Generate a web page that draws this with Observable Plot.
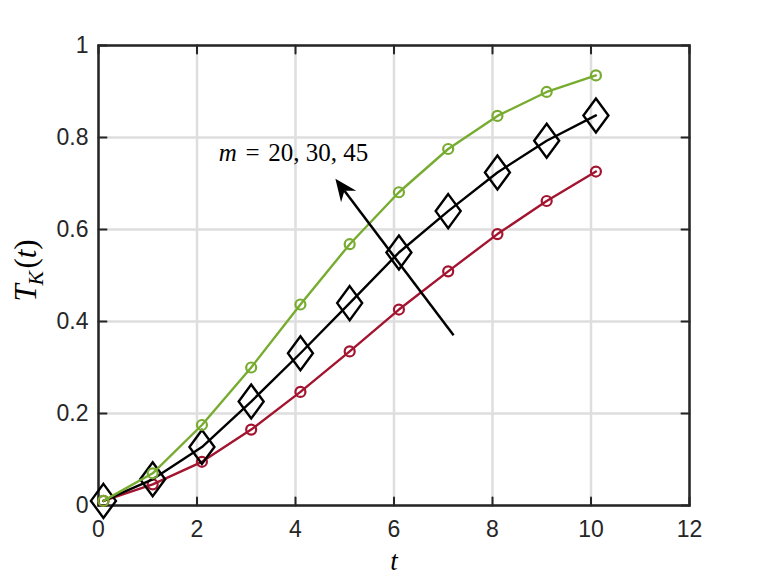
<!DOCTYPE html>
<html><head><meta charset="utf-8">
<script src="https://cdn.jsdelivr.net/npm/d3@7"></script>
<script src="https://cdn.jsdelivr.net/npm/@observablehq/plot@0.6"></script>
<style>body{margin:0;background:#fff}</style>
</head><body><div id="chart"></div>
<script>
// ---- data ----
const tValues = [0.1, 1.1, 2.1, 3.1, 4.1, 5.1, 6.1, 7.1, 8.1, 9.1, 10.1];
const m20 = [0.01, 0.046, 0.095, 0.165, 0.247, 0.335, 0.426, 0.509, 0.59, 0.662, 0.726];
const m30 = [0.01, 0.057, 0.127, 0.226, 0.331, 0.44, 0.55, 0.64, 0.724, 0.793, 0.848];
const m45 = [0.01, 0.07, 0.175, 0.30, 0.437, 0.568, 0.681, 0.775, 0.847, 0.899, 0.935];
const xTicks = [0, 2, 4, 6, 8, 10, 12];
const yTicks = [0, 0.2, 0.4, 0.6, 0.8, 1];
const annotationText = ["m = 20, 30, 45"];
const annotationPos = [2.44, 0.767];
const arrowTail = [7.22, 0.369];
const arrowTip = [4.82, 0.709];
const xLabel = "t";
const yLabel = "T_K(t)";

const rows = (vals) => tValues.map((t, i) => ({t, v: vals[i]}));
const red = "#A2142F", green = "#77AC30", ink = "#262626";

const tickShape = {draw(ctx, l) { ctx.moveTo(0, 0); ctx.lineTo(0, -l); }};
const diamond = {draw(ctx, size) {
  const r = Math.sqrt(size / Math.PI);
  const h = r * 1.36;
  ctx.moveTo(0, -h); ctx.lineTo(r, 0); ctx.lineTo(0, h); ctx.lineTo(-r, 0); ctx.closePath();
}};
const tickOpts = {length: 8, anchor: "start", shape: tickShape, stroke: ink, strokeWidth: 2};

const plot = Plot.plot({
  width: 761, height: 580,
  marginLeft: 98, marginRight: 72, marginTop: 45, marginBottom: 75,
  x: {domain: [0, 12]},
  y: {domain: [0, 1]},
  style: {fontFamily: "'Liberation Sans', Arial, sans-serif", fontSize: "23px", color: ink, background: "#fff"},
  marks: [
    Plot.gridX(xTicks, {stroke: "#dedede", strokeOpacity: 1, strokeWidth: 2.5}),
    Plot.gridY(yTicks, {stroke: "#dedede", strokeOpacity: 1, strokeWidth: 2.5}),
    Plot.axisX(xTicks, {tickSize: 0, tickPadding: 15, label: null, tickFormat: d => String(d), fill: ink}),
    Plot.axisY(yTicks, {tickSize: 0, tickPadding: 10, label: null, tickFormat: d => String(d), fill: ink}),
    Plot.vector(xTicks, {x: d => d, frameAnchor: "bottom", ...tickOpts}),
    Plot.vector(xTicks, {x: d => d, frameAnchor: "top", rotate: 180, ...tickOpts}),
    Plot.vector(yTicks, {y: d => d, frameAnchor: "left", rotate: 90, ...tickOpts}),
    Plot.vector(yTicks, {y: d => d, frameAnchor: "right", rotate: -90, ...tickOpts}),
    Plot.frame({stroke: ink, strokeWidth: 2.5}),
    Plot.line(rows(m20), {x: "t", y: "v", stroke: red, strokeWidth: 2.4}),
    Plot.dot(rows(m20), {x: "t", y: "v", r: 5, stroke: red, strokeWidth: 2.2, fill: "none"}),
    Plot.line(rows(m30), {x: "t", y: "v", stroke: "black", strokeWidth: 2.4}),
    Plot.dot(rows(m30), {x: "t", y: "v", r: 12.5, symbol: diamond, stroke: "black", strokeWidth: 2.4, fill: "none"}),
    Plot.line(rows(m45), {x: "t", y: "v", stroke: green, strokeWidth: 2.4}),
    Plot.dot(rows(m45), {x: "t", y: "v", r: 5, stroke: green, strokeWidth: 2.2, fill: "none"}),
    Plot.text(annotationText, {x: annotationPos[0], y: annotationPos[1], text: d => d, textAnchor: "start",
      fontFamily: "'Liberation Serif', serif", fontSize: 25, fill: "black"}),
    Plot.text([xLabel], {frameAnchor: "bottom", dy: 64, text: d => d, fontFamily: "'Liberation Serif', serif",
      fontStyle: "italic", fontSize: 27, fill: "black"}),
    Plot.text([yLabel], {frameAnchor: "left", dx: -72, dy: 26, rotate: -90, text: d => d, fontFamily: "'Liberation Serif', serif",
      fontSize: 31, fill: "black"})
  ]
});

const svg = d3.select(plot);
// math formatting of labels
svg.selectAll("text").each(function() {
  const el = d3.select(this);
  const s = this.textContent;
  if (s === annotationText[0]) {
    el.text(null);
    el.append("tspan").attr("font-style", "italic").text("m");
    el.append("tspan").attr("dx", "0.35em").text("=");
    el.append("tspan").attr("dx", "0.35em").text("20,");
    el.append("tspan").attr("dx", "0.25em").text("30,");
    el.append("tspan").attr("dx", "0.25em").text("45");
  } else if (s === yLabel) {
    el.text(null);
    el.append("tspan").attr("font-style", "italic").text("T");
    el.append("tspan").attr("font-style", "italic").attr("font-size", "0.7em").attr("dy", "0.3em").attr("dx", "-0.06em").text("K");
    el.append("tspan").attr("dy", "-0.21em").attr("dx", "0.08em").text("(");
    el.append("tspan").attr("font-style", "italic").text("t");
    el.append("tspan").text(")");
  }
});
// arrow with filled head
const sx = plot.scale("x"), sy = plot.scale("y");
const ax1 = sx.apply(arrowTail[0]), ay1 = sy.apply(arrowTail[1]);
const ax2 = sx.apply(arrowTip[0]), ay2 = sy.apply(arrowTip[1]);
const len = Math.hypot(ax2 - ax1, ay2 - ay1);
const ux = (ax2 - ax1) / len, uy = (ay2 - ay1) / len, nx = -uy, ny = ux;
const L = 22, W = 9.5, N = 15;
const g = svg.append("g").attr("class", "arrow");
g.append("line").attr("x1", ax1).attr("y1", ay1).attr("x2", ax2 - N * ux).attr("y2", ay2 - N * uy)
  .attr("stroke", "black").attr("stroke-width", 2.5);
g.append("path").attr("fill", "black").attr("d",
  `M${ax2},${ay2}L${ax2 - L*ux + W*nx},${ay2 - L*uy + W*ny}L${ax2 - N*ux},${ay2 - N*uy}L${ax2 - L*ux - W*nx},${ay2 - L*uy - W*ny}Z`);

document.getElementById("chart").appendChild(plot);
</script>
</body></html>
